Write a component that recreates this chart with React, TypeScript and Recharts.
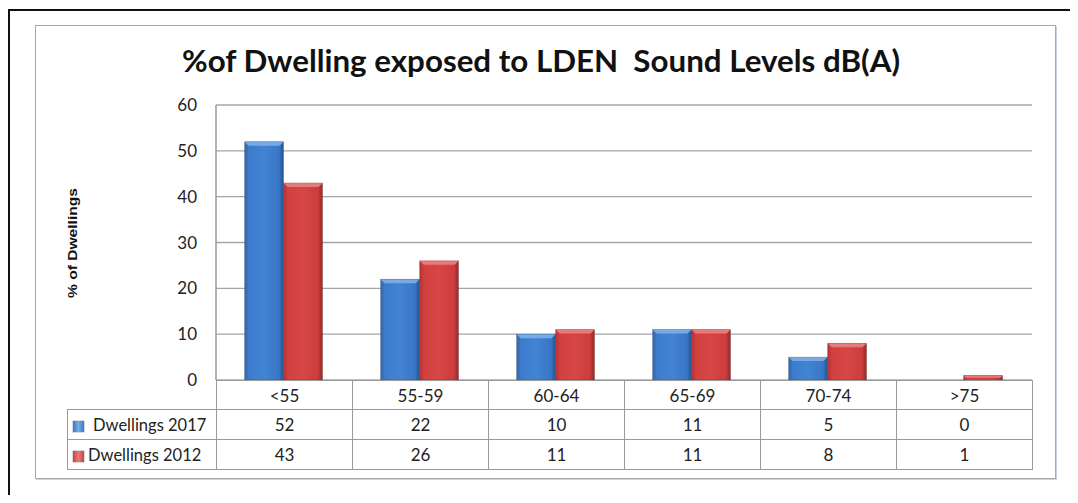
import { BarChart, Bar, XAxis, YAxis, CartesianGrid } from "recharts";

const categories = ["<55", "55-59", "60-64", "65-69", "70-74", ">75"];
const dwellings2017 = [52, 22, 10, 11, 5, 0];
const dwellings2012 = [43, 26, 11, 11, 8, 1];
const yTicks = [0, 10, 20, 30, 40, 50, 60];

const series = [
  { key: "d2017", name: "Dwellings 2017", values: dwellings2017, grad: "gradBlue", top: "#78aae6", sw: "#3b78c8" },
  { key: "d2012", name: "Dwellings 2012", values: dwellings2012, grad: "gradRed", top: "#e87a7a", sw: "#cf4040" },
];

const data = categories.map((c, i) => ({ cat: c, d2017: dwellings2017[i], d2012: dwellings2012[i] }));

const FONT = "Lato, 'Open Sans', sans-serif";

function BevelBar(props: any) {
  const { x, y, width, height, gradId, topColor } = props;
  if (!height || height <= 0) return null;
  const b = Math.min(4, height / 2);
  return (
    <g>
      <rect x={x} y={y} width={width} height={height} fill={`url(#${gradId})`} />
      <polygon
        points={`${x},${y} ${x + width},${y} ${x + width - b},${y + b} ${x + b},${y + b}`}
        fill={topColor}
      />
      <rect x={x} y={y} width={width} height={height} fill="none" stroke="rgba(0,0,0,0.18)" strokeWidth={0.8} />
    </g>
  );
}

export default function App() {
  const cellBorder = "1.5px solid #9a9a9a";
  return (
    <div style={{ position: "relative", width: 1062, height: 487, overflow: "hidden", fontFamily: FONT }}>
      {/* outer black frame (cut at right/bottom) */}
      <div style={{ position: "absolute", left: 0, top: 1, width: 1200, height: 600, borderLeft: "2px solid #111", borderTop: "2px solid #111" }} />
      {/* chart frame */}
      <div style={{ position: "absolute", left: 27, top: 17, width: 1019, height: 452, border: "1.5px solid #a8a8a8", boxShadow: "1px 1px 0 #c9d3e3", background: "#fff" }} />

      <svg width={1062} height={80} style={{ position: "absolute", left: 0, top: 0 }}>
        <text x={533} y={64} textAnchor="middle" fontFamily={FONT} fontWeight={700} fontSize={30} fill="#111" textLength={718} lengthAdjust="spacingAndGlyphs" style={{ whiteSpace: "pre" }}>
          {"%of Dwelling exposed to LDEN  Sound Levels dB(A)"}
        </text>
      </svg>

      <svg width={40} height={200} style={{ position: "absolute", left: 50, top: 135 }}>
        <text transform="translate(19,100) rotate(-90)" textAnchor="middle" fontFamily="'Liberation Sans', Arial, sans-serif" fontWeight={700} fontSize={13} fill="#111" textLength={110} lengthAdjust="spacingAndGlyphs">
          % of Dwellings
        </text>
      </svg>

      <div style={{ position: "absolute", left: 0, top: 0 }}>
        <BarChart width={1062} height={487} data={data} margin={{ top: 97, right: 38, bottom: 115, left: 168 }} barCategoryGap="21%" barGap={0}>
          <defs>
            <linearGradient id="gradBlue" x1="0" y1="0" x2="1" y2="0">
              <stop offset="0%" stopColor="#2f64ae" />
              <stop offset="12%" stopColor="#3d7ccd" />
              <stop offset="50%" stopColor="#4283d3" />
              <stop offset="88%" stopColor="#3a76c6" />
              <stop offset="100%" stopColor="#24528f" />
            </linearGradient>
            <linearGradient id="gradRed" x1="0" y1="0" x2="1" y2="0">
              <stop offset="0%" stopColor="#b23232" />
              <stop offset="12%" stopColor="#d24040" />
              <stop offset="50%" stopColor="#d84545" />
              <stop offset="88%" stopColor="#cc3d3d" />
              <stop offset="100%" stopColor="#962626" />
            </linearGradient>
          </defs>
          <CartesianGrid vertical={false} stroke="#a5a5a5" strokeWidth={1.3} />
          <XAxis dataKey="cat" hide />
          <YAxis
            domain={[0, 60]}
            ticks={yTicks}
            width={40}
            tickSize={0}
            tickMargin={19}
            axisLine={{ stroke: "#9a9a9a", strokeWidth: 1.5 }}
            tickLine={false}
            tick={{ fontSize: 17, fill: "#222", fontFamily: FONT }}
          />
          {series.map((s) => (
            <Bar
              key={s.key}
              dataKey={s.key}
              name={s.name}
              fill={s.sw}
              isAnimationActive={false}
              shape={(p: any) => <BevelBar {...p} gradId={s.grad} topColor={s.top} />}
            />
          ))}
        </BarChart>
      </div>

      {/* data table below the plot */}
      <table style={{ position: "absolute", left: 59, top: 372, borderCollapse: "collapse", tableLayout: "fixed", fontFamily: FONT, fontSize: 17, color: "#222" }}>
        <colgroup>
          <col style={{ width: 149 }} />
          {categories.map((c) => (
            <col key={c} style={{ width: 136 }} />
          ))}
        </colgroup>
        <tbody>
          <tr style={{ height: 29 }}>
            <td style={{ padding: 0 }} />
            {categories.map((c) => (
              <td key={c} style={{ border: cellBorder, textAlign: "center", padding: 0 }}>{c}</td>
            ))}
          </tr>
          {series.map((s, si) => (
            <tr key={s.key} style={{ height: 30 }}>
              <td style={{ border: cellBorder, padding: 0, whiteSpace: "nowrap", fontSize: 16.5 }}>
                <span style={{ display: "inline-block", width: 11, height: 11, marginLeft: 5, marginRight: si === 0 ? 9 : 4, verticalAlign: -1, background: `linear-gradient(90deg, ${s.sw}, ${s.top}, ${s.sw})`, boxShadow: "0 0 0 0.5px rgba(0,0,0,0.3)" }} />
                {s.name}
              </td>
              {s.values.map((v, i) => (
                <td key={i} style={{ border: cellBorder, textAlign: "center", padding: 0 }}>{v}</td>
              ))}
            </tr>
          ))}
        </tbody>
      </table>
    </div>
  );
}
